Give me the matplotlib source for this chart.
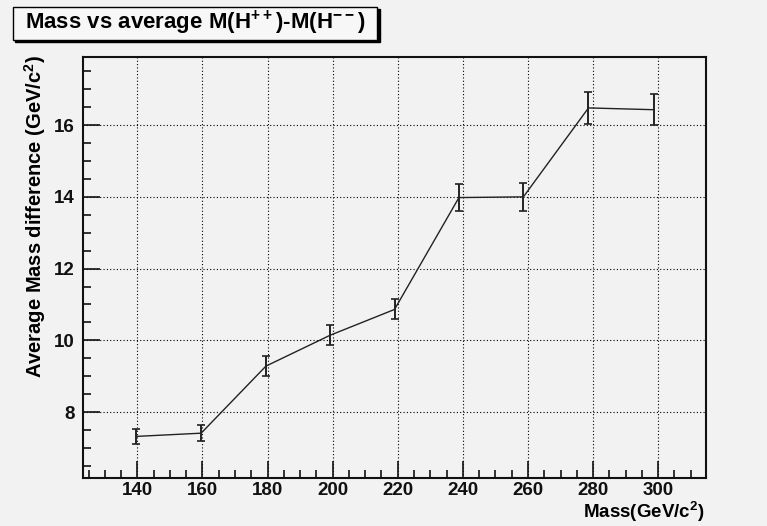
import matplotlib.pyplot as plt
from matplotlib.patches import Rectangle
from matplotlib.ticker import MultipleLocator

plt.rcParams['font.family'] = ['Liberation Sans', 'DejaVu Sans']
plt.rcParams['font.weight'] = 'bold'
plt.rcParams['mathtext.fontset'] = 'custom'
plt.rcParams['mathtext.rm'] = 'Liberation Sans:bold'
plt.rcParams['mathtext.bf'] = 'Liberation Sans:bold'

# data
mass = [139.7, 159.6, 179.5, 199.2, 219.0, 238.8, 258.6, 278.6, 298.7]
avg_diff = [7.32, 7.41, 9.28, 10.14, 10.86, 13.98, 14.0, 16.48, 16.43]
err = [0.20, 0.22, 0.28, 0.28, 0.28, 0.37, 0.39, 0.45, 0.43]

bg = '#f2f2f2'
W, H = 767, 526
fig = plt.figure(figsize=(W / 100, H / 100), dpi=100, facecolor=bg)
# frame: left 83, right 706, top 57, bottom 478 (pixels)
ax = fig.add_axes([83 / W, 1 - 478 / H, (706 - 83) / W, (478 - 57) / H])
ax.set_facecolor(bg)

ax.errorbar(mass, avg_diff, yerr=err, color='#222222', lw=1.0,
            elinewidth=1.4, capsize=3, capthick=1.2)

ax.set_xlim(123.3, 314.7)
ax.set_ylim(6.16, 17.9)
ax.xaxis.set_major_locator(MultipleLocator(20))
ax.xaxis.set_minor_locator(MultipleLocator(5))
ax.yaxis.set_major_locator(MultipleLocator(2))
ax.yaxis.set_minor_locator(MultipleLocator(0.5))
ax.tick_params(which='both', direction='in', top=False, right=False,
               colors='#111111', labelsize=13.5, width=1.2)
ax.tick_params(which='major', length=12)
ax.tick_params(which='minor', length=6)
ax.tick_params(axis='x', which='major', pad=3)
ax.tick_params(axis='y', which='major', pad=6)
for lab in ax.get_xticklabels() + ax.get_yticklabels():
    lab.set_fontweight('bold')

ax.grid(True, which='major', ls=(0, (1, 2)), color='black', lw=0.8)
for s in ax.spines.values():
    s.set_linewidth(1.5)
    s.set_color('#111111')

# axis titles, ROOT style: aligned to the end of the axis
fig.text(35 / W, 1 - 55 / H, 'Average Mass difference (GeV/c$^2$)',
         rotation=90, ha='center', va='top', fontsize=14.5, fontweight='bold')
fig.text(705 / W, 1 - 524 / H, 'Mass(GeV/c$^2$)', ha='right', va='bottom',
         fontsize=13.5, fontweight='bold')

# title box with shadow
fig.patches.append(Rectangle((15 / W, 1 - 42 / H), 365 / W, 33 / H,
                             transform=fig.transFigure, facecolor='black',
                             edgecolor='black', zorder=1))
fig.patches.append(Rectangle((13 / W, 1 - 40 / H), 364 / W, 33 / H,
                             transform=fig.transFigure, facecolor='#f7f7f7',
                             edgecolor='black', lw=1, zorder=2))
fig.text(196 / W, 1 - 23 / H, 'Mass vs average M(H$^{++}$)-M(H$^{--}$)',
         ha='center', va='center', fontsize=16, fontweight='bold', zorder=3)

fig.savefig('out.png', dpi=100, facecolor=bg)
